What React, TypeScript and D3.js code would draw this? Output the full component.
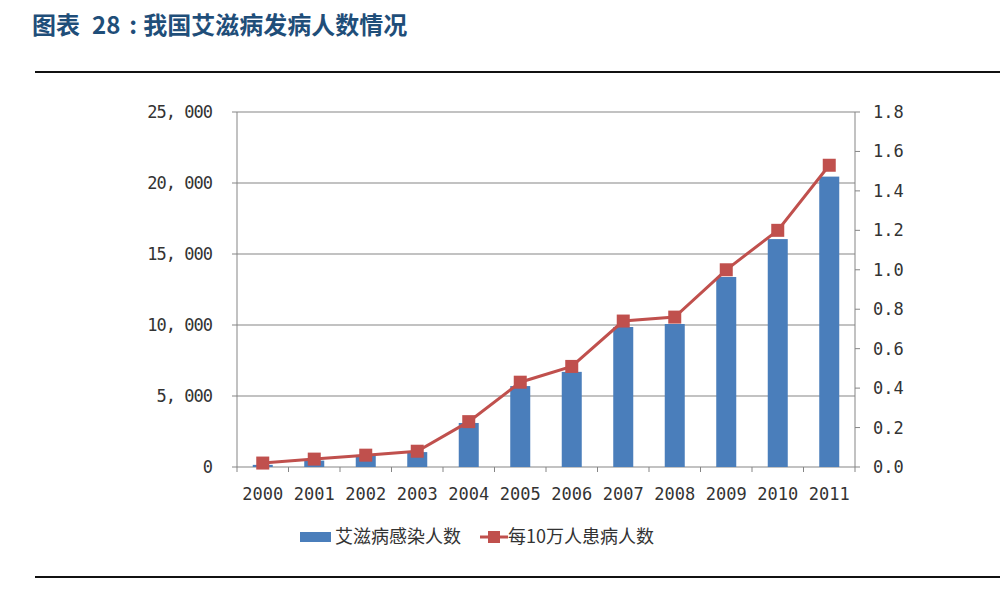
import React from "react";
import * as d3 from "d3";

const years = ["2000","2001","2002","2003","2004","2005","2006","2007","2008","2009","2010","2011"];
const infected = [150, 450, 850, 1050, 3100, 5700, 6700, 9860, 10070, 13380, 16050, 20450];
const ratePer100k = [0.02, 0.04, 0.06, 0.08, 0.23, 0.43, 0.51, 0.74, 0.76, 1.0, 1.2, 1.53];
const leftTicks = [0, 5000, 10000, 15000, 20000, 25000];
const rightTicks = [0, 0.2, 0.4, 0.6, 0.8, 1.0, 1.2, 1.4, 1.6, 1.8];

const W = 1000, H = 592;
const X0 = 237, X1 = 855, Y0 = 467, Y1 = 112;
const BLUE = "#4a7ebb";
const RED = "#c0504d";
const AX = "#858585";
const TXT = "#333";
const MONO = "'DejaVu Sans Mono', monospace";
const CJK = "'Noto Sans CJK SC', sans-serif";

export default function App() {
  const x = d3.scaleBand().domain(years).range([X0, X1]).paddingInner(0).paddingOuter(0);
  const yL = d3.scaleLinear().domain([0, 25000]).range([Y0, Y1]);
  const yR = d3.scaleLinear().domain([0, 1.8]).range([Y0, Y1]);
  const bw = 20;
  const cx = (y: string) => (x(y) as number) + x.bandwidth() / 2;
  const line = d3.line<number>().x((_, i) => cx(years[i])).y((d) => yR(d));
  const fmtL = (v: number) => d3.format(",")(v).replace(",", ", ");
  const boundaries = d3.range(years.length + 1).map((i) => X0 + i * x.bandwidth());

  return (
    <svg width={W} height={H} style={{ position: "absolute", left: 0, top: 0, background: "#fff" }}>
      <text x={32} y={34} fontSize={24} fontWeight="bold" fill="#1f4e79" fontFamily={CJK}>
        <tspan>图表</tspan>
        <tspan dx={12}>28</tspan>
        <tspan dx={9}>:</tspan>
        <tspan dx={6}>我国艾滋病发病人数情况</tspan>
      </text>
      <line x1={35} x2={1000} y1={72} y2={72} stroke="#111" strokeWidth={2} />
      <line x1={35} x2={1000} y1={577} y2={577} stroke="#111" strokeWidth={2} />

      {leftTicks.map((t) => (
        <g key={"gl" + t}>
          <line x1={X0 - 5} x2={X1} y1={yL(t)} y2={yL(t)} stroke={AX} strokeWidth={1} />
          <text x={212} y={yL(t) + 6} textAnchor="end" fontSize={17} fill={TXT} fontFamily={MONO} letterSpacing={-1}>
            {fmtL(t)}
          </text>
        </g>
      ))}
      <line x1={X0} x2={X0} y1={Y1} y2={Y0} stroke={AX} />
      <line x1={X1} x2={X1} y1={Y1} y2={Y0} stroke={AX} />
      {rightTicks.map((t) => (
        <g key={"r" + t}>
          <line x1={X1} x2={X1 + 5} y1={yR(t)} y2={yR(t)} stroke={AX} />
          <text x={873} y={yR(t) + 6} fontSize={17} fill={TXT} fontFamily={MONO}>
            {t.toFixed(1)}
          </text>
        </g>
      ))}
      {boundaries.map((b, i) => (
        <line key={"xt" + i} x1={b} x2={b} y1={Y0} y2={Y0 + 5} stroke={AX} />
      ))}
      {years.map((y) => (
        <text key={"yl" + y} x={cx(y)} y={500} textAnchor="middle" fontSize={17} fill={TXT} fontFamily={MONO}>
          {y}
        </text>
      ))}

      {infected.map((v, i) => (
        <rect key={"b" + i} x={cx(years[i]) - bw / 2} y={yL(v)} width={bw} height={Y0 - yL(v)} fill={BLUE} />
      ))}

      <path d={line(ratePer100k) || ""} fill="none" stroke={RED} strokeWidth={3} />
      {ratePer100k.map((v, i) => (
        <rect key={"m" + i} x={cx(years[i]) - 6.5} y={yR(v) - 6.5} width={13} height={13} fill={RED} />
      ))}

      <rect x={300} y={532} width={31} height={10} fill={BLUE} />
      <text x={335} y={543} fontSize={18} fill={TXT} fontFamily={CJK}>艾滋病感染人数</text>
      <line x1={480} x2={508} y1={537} y2={537} stroke={RED} strokeWidth={3} />
      <rect x={488} y={531} width={12} height={12} fill={RED} />
      <text x={508} y={543} fontSize={18} fill={TXT} fontFamily={CJK}>每10万人患病人数</text>
    </svg>
  );
}
